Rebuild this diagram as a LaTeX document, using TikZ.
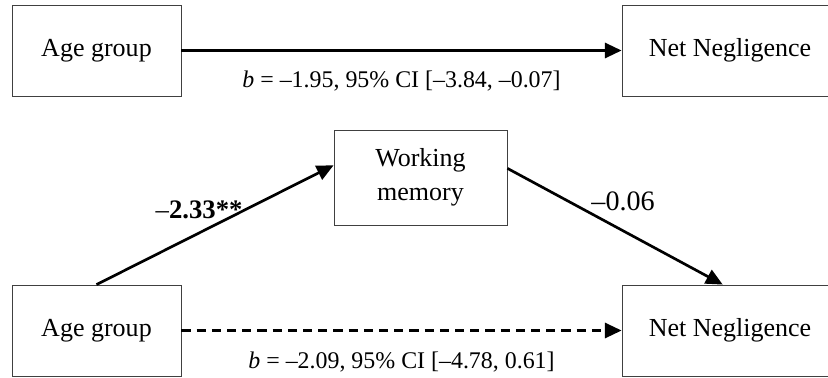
\documentclass[tikz,border=0pt]{standalone}
\usepackage{fontspec}
\setmainfont{Liberation Serif}
\usepackage{tikz}
\usetikzlibrary{arrows.meta,positioning}

\begin{document}
\begin{tikzpicture}[scale=1,
  box/.style={draw=black!75,line width=0.6pt,minimum height=2.275cm,inner sep=0pt,align=center,font=\fontsize{18.5}{24}\selectfont},
  link/.style={line width=1.9pt,-{Triangle[length=0.42cm,width=0.38cm]}},
  lbl/.style={font=\fontsize{17}{20}\selectfont}]
\useasboundingbox (0,0) rectangle (20.7,9.425);
\clip (0,0) rectangle (20.7,9.425);
% total effect
\node[box,minimum width=4.225cm] (agetop) at (2.4125,8.1625) {Age group};
\node[box,minimum width=5.4cm] (negtop) at (18.25,8.1625) {Net Negligence};
\draw[link] (agetop) -- (negtop) node[lbl,midway,below=0.37cm]{\textit{b} = –1.95, 95\% CI [–3.84, –0.07]};
% mediation model
\node[box,minimum width=4.325cm,minimum height=2.375cm] (wm) at (10.5125,4.9875) {Working\\memory};
\node[box,minimum width=4.225cm] (agebot) at (2.4125,1.1625) {Age group};
\node[box,minimum width=5.4cm] (negbot) at (18.25,1.1625) {Net Negligence};
\draw[link] (agebot.north) -- (wm.172) node[midway,above,xshift=-0.4cm,font=\fontsize{19}{22}\selectfont]{–\textbf{2.33**}};
\draw[link] (wm.6) -- (negbot.99) node[midway,above=0.25cm,xshift=0.2cm,font=\fontsize{20}{24}\selectfont]{–0.06};
\draw[link,dash pattern=on 0.23cm off 0.15cm] (agebot) -- (negbot) node[lbl,midway,below=0.38cm]{\textit{b} = –2.09, 95\% CI [–4.78, 0.61]};
\end{tikzpicture}
\end{document}
